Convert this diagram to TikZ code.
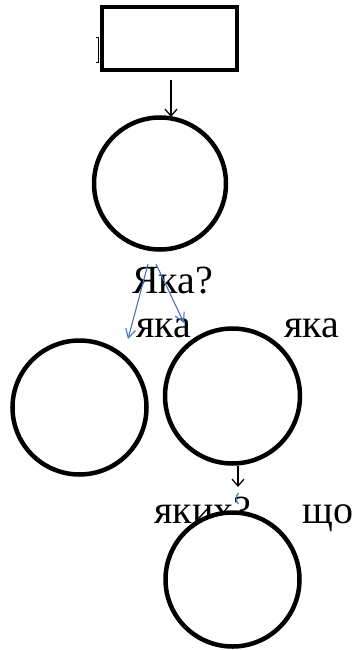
\documentclass[tikz,border=0pt]{standalone}
\usepackage{fontspec}
\setmainfont{Liberation Serif}
\usetikzlibrary{arrows.meta}
\definecolor{linkblue}{RGB}{68,114,196}
\begin{document}
\begin{tikzpicture}[x=1pt,y=-1pt,
  shapeline/.style={draw=black,line width=4.5pt,fill=white},
  roundbox/.style={shapeline,circle,inner sep=0pt},
  lbl/.style={font=\fontsize{40}{44}\selectfont,inner sep=0pt,anchor=base west},
  blackarrow/.style={draw=black,line width=1.2pt,-{Straight Barb[length=7pt,width=12pt]}},
  bluearrow/.style={draw=linkblue,line width=1.1pt,-{Straight Barb[length=9pt,width=10pt]}}]
\useasboundingbox (0,0) rectangle (352,650);
% hidden glyph fragment behind the box
\draw[line width=0.8pt] (96,37) -- (98.5,37) -- (98.5,62) -- (96,62);
\node[shapeline,rectangle,minimum width=135pt,minimum height=63pt,inner sep=0pt] (box) at (169.5,38.5) {};
\node[roundbox,minimum size=132pt] (c1) at (160,183.5) {};
\coordinate (a1s) at (171,80);
\coordinate (a1e) at (171,117);
\draw[blackarrow] (a1s) -- (a1e);
\node[lbl] (q1) at (132,293) {Яка?};
\node[lbl] (l1) at (136,337) {яка};
\node[lbl] (l2) at (284,337) {яка};
\coordinate (b1s) at (148,264);
\coordinate (b1e) at (128,339);
\coordinate (b2s) at (156,264);
\coordinate (b2e) at (184,323);
\draw[bluearrow] (b1s) -- (b1e);
\draw[bluearrow] (b2s) -- (b2e);
\node[roundbox,minimum size=134pt] (c2) at (79.5,407.5) {};
\node[roundbox,minimum size=135pt] (c3) at (232.5,396) {};
\coordinate (a2e) at (238,487);
\draw[blackarrow] (c3.south -| a2e) -- (a2e);
\node[lbl] (l3) at (154,523) {яких?};
\node[lbl] (l4) at (302,523) {що};
\draw[draw=linkblue,line width=1.2pt] (238.5,493) .. controls (235.5,496) and (235.5,501) .. (238.5,504);
\node[roundbox,minimum size=134pt] (c4) at (232.5,579.5) {};
\end{tikzpicture}
\end{document}
